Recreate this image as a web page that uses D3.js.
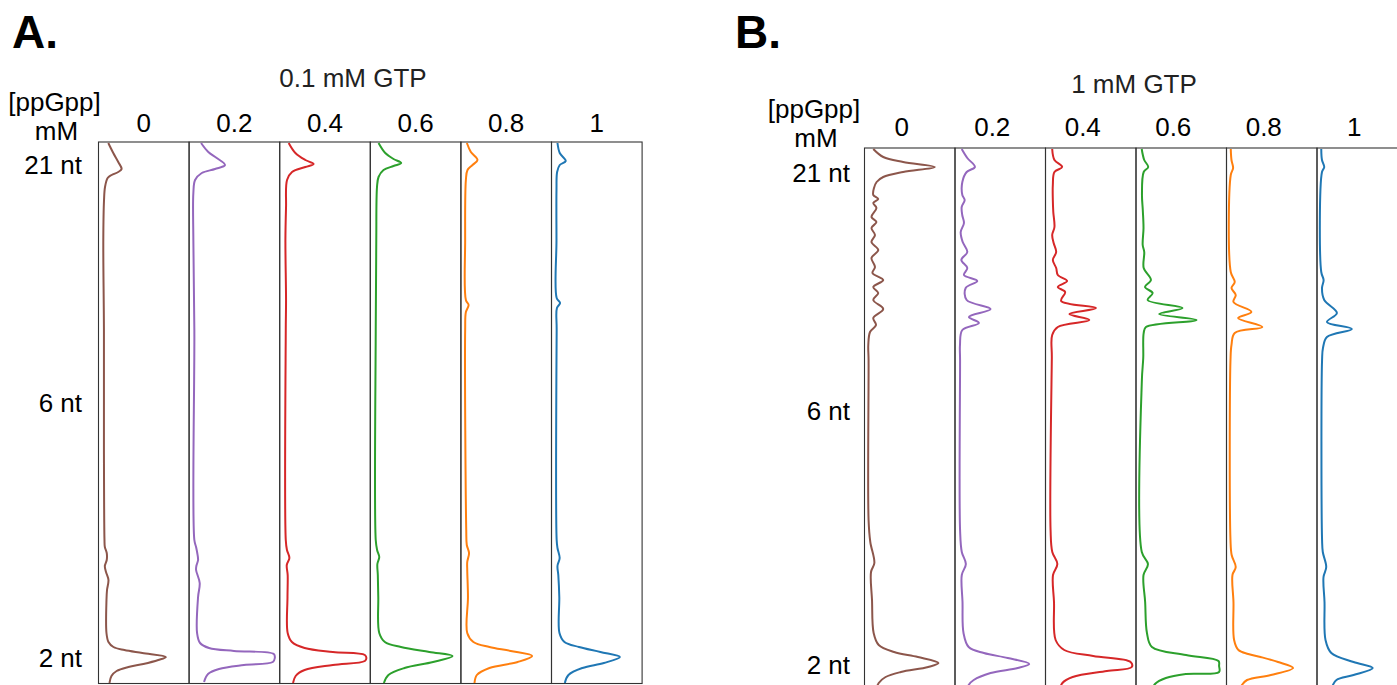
<!DOCTYPE html>
<html>
<head>
<meta charset="utf-8">
<script src="https://cdn.jsdelivr.net/npm/d3@7"></script>
<style>
  body { margin: 0; background: #fff; }
  text { font-family: "Liberation Sans", Arial, sans-serif; }
</style>
</head>
<body>
<script>
"use strict";

// lanes = ppGpp concentration (mM)
let lanes = ['0', '0.2', '0.4', '0.6', '0.8', '1'];
let laneColors = ['#8c564b', '#9467bd', '#d62728', '#2ca02c', '#ff7f0e', '#1f77b4'];

// size markers (label, migration)
let sizeLabels = ['21 nt', '6 nt', '2 nt'];
let sizePosA = [2.35, 26.1, 51.6];
let sizePosB = [2.5, 26.3, 51.7];

// densitometry profiles: [migration, intensity]
// panel A : 0.1 mM GTP
let profA0 = [[0.1,10.8],[1.1,16.3],[2.0,21.8],[2.7,25.5],[3.0,21.8],[3.3,14.5],[3.6,10.1],[4.5,7.2],[5.8,6.1],[9.8,5.3],
  [18.8,6.0],[30.8,6.0],[39.8,6.6],[40.5,7.0],[41.1,9.1],[41.8,9.1],[42.4,7.0],[43.0,8.3],[43.8,11.0],[44.8,9.4],[45.8,8.8],
  [49.1,8.8],[50.0,11.0],[50.5,16.5],[50.8,28.6],[51.1,48.4],[51.5,74.4],[51.8,66],[52.2,49.5],[52.5,33],[52.9,20],[53.4,14.3],[54.1,12.1]];
let profA1 = [[0.1,13.2],[1.0,21.2],[1.6,30.5],[2.3,39.6],[2.7,28.6],[3.1,14.0],[3.8,6.6],[5.1,4.7],[9.8,4.7],[18.8,5.8],
  [39.8,5.8],[40.5,7.7],[41.1,9.0],[41.8,9.9],[42.4,8.0],[42.8,7.7],[44.1,11.7],[45.5,9.9],
  [49.1,8.8],[50.1,12.1],[50.6,22],[50.9,49.5],[51.2,93.5],[51.6,94.6],[52.0,92.4],[52.3,60.5],[52.7,33],[53.2,20.9],[54.0,16.5]];
let profA2 = [[0.1,9.9],[1.1,17.3],[1.8,28.3],[2.2,37.4],[2.5,28.3],[3.0,13.6],[3.8,8.1],[6.5,7.0],[9.8,6.3],[15.8,7.0],[18.8,6.7],
  [39.8,6.7],[40.8,8.0],[41.6,10.7],[42.3,7.8],[43.3,8.8],[45.5,8.6],
  [49.1,8.8],[50.0,13.5],[50.6,27.5],[51.0,58.7],[51.3,94],[51.6,95.7],[51.9,94],[52.3,58.7],[52.8,27.5],[53.4,17.6],[54.1,14.7]];
let profA3 = [[0.1,9.1],[1.1,16.5],[1.7,25.6],[2.1,34.1],[2.4,25.6],[2.8,14.6],[3.5,9.1],[4.5,7.4],[9.8,6.6],[18.8,6.0],
  [39.8,6.0],[40.8,7.5],[41.5,9.9],[42.2,7.8],[43.3,8.3],[45.5,8.8],
  [49.1,9.9],[50.0,16.1],[50.5,33.8],[51.0,65.2],[51.4,90.8],[52.0,69.3],[52.6,37.7],[53.3,20],[54.1,15]];
let profA4 = [[0.1,6.6],[1.0,11],[1.8,18.3],[2.3,12.8],[2.8,7.3],[3.8,5.5],[9.8,4.7],[15.8,5.5],[16.3,8.5],[17.0,5.5],[18.8,4.7],
  [38.8,5.9],[40.3,6.5],[41.1,9.0],[42.0,7.0],[42.8,7.0],[45.5,7.8],
  [49.1,7.0],[50.0,13.8],[50.5,31.5],[50.9,55],[51.4,78.7],[52.0,62.7],[52.6,31.5],[53.3,17.6],[54.1,15]];
let profA5 = [[0.1,6.6],[1.1,9.1],[1.9,15.7],[2.3,9.1],[3.0,6.2],[4.8,5.5],[9.8,5.5],[15.6,5.7],[16.1,9.5],[16.6,6.0],[18.8,5.7],
  [39.8,5.7],[40.6,6.6],[41.6,9.0],[42.4,6.6],[43.3,7.5],[45.5,8.6],
  [49.1,8.8],[50.0,14.3],[50.5,30.3],[51.0,54],[51.5,75.5],[52.1,57.8],[52.6,34.1],[53.3,18.7],[54.1,14.7]];

// panel B : 1 mM GTP
let profB0 = [[0.1,9.7],[0.9,20.7],[1.4,42.7],[1.9,77.6],[2.4,42.7],[2.9,20.7],[3.4,13.4],[4.0,10.5],[4.7,9.7],[5.1,15.2],[5.5,9.7],
  [6.0,13.2],[6.9,7.7],[7.4,13.2],[8.0,7.7],[8.7,11.6],[9.4,7.7],[10.2,15.2],[11.0,7.7],[11.9,11.6],[12.5,8.8],[13.2,20.7],
  [13.9,9.7],[14.5,15.2],[15.2,9.7],[16.1,20.7],[17.0,9.7],[17.7,12.7],[18.4,6.1],[19.7,4.2],[21.2,4.5],[37.2,4.5],
  [39.4,6.4],[41.5,10.9],[42.4,7.2],[45.2,8.3],[48.5,10.1],[49.7,15.7],[50.4,32.7],[50.9,59],[51.5,81.7],[51.9,70.4],
  [52.4,40.2],[52.9,23.3],[53.5,15.7],[54.4,12]];
let profB1 = [[0.1,7.4],[1.0,13.6],[1.9,22],[2.4,12.9],[3.4,8.1],[4.7,8.1],[5.2,10.7],[5.9,7.4],[6.7,8.0],[7.5,9.9],[8.4,6.3],
  [9.4,8.5],[10.4,13.6],[11.2,7.0],[12.0,13.6],[12.7,9.9],[13.3,24.6],[14.0,11.8],[15.2,12.9],[16.1,39.3],[16.9,15.4],
  [17.5,26.4],[18.2,8.1],[19.7,5.5],[21.2,5.6],[38.2,5.6],[40.4,7.5],[41.6,12],[42.7,7.5],[45.4,8.3],
  [48.5,9.4],[49.9,15.1],[50.5,31.9],[51.0,58.3],[51.6,82],[52.0,69.3],[52.5,39.3],[53.2,20.7],[53.7,15.1],[54.4,13]];
let profB2 = [[0.1,7.4],[1.2,9.9],[1.9,18.4],[2.4,9.9],[3.7,8.1],[5.2,8.1],[6.4,8.6],[7.9,9.9],[8.7,7.4],[9.5,9.0],[10.4,11.8],
  [11.2,8.1],[12.0,11.8],[12.7,13.6],[13.3,23.9],[13.9,13.6],[14.4,21.7],[15.3,17.3],[16.0,55.8],[16.6,26.4],[17.2,48.4],
  [17.9,13.6],[18.7,7.4],[21.0,7.0],[38.2,5.6],[40.4,7.5],[41.6,13.1],[42.7,8.3],[45.4,9.4],
  [49.2,11.2],[50.2,20.7],[50.8,52.7],[51.4,94],[51.9,95.3],[52.3,67.8],[52.9,30],[53.5,18.7],[54.4,15]];
let profB3 = [[0.1,6.3],[1.2,9.1],[1.9,13.5],[2.4,8.5],[4.7,6.6],[6.2,7.5],[8.0,8.3],[9.7,7.4],[10.4,9.1],[12.0,8.5],[13.2,16.5],
  [13.9,9.9],[14.5,18.4],[15.2,12.9],[16.0,51.4],[16.6,25.6],[17.2,66.8],[17.9,11],[18.5,8.5],[21.0,8.0],[23.2,6.5],
  [40.4,6.4],[41.6,13.2],[42.7,8.3],[45.4,10.1],[48.5,12.1],[49.9,17.6],[50.7,55.3],[51.3,91.2],[51.8,91.8],[52.4,91.8],
  [52.6,55],[53.0,33],[53.6,21],[54.4,17]];
let profB4 = [[0.1,4.7],[1.2,5.5],[2.0,7.3],[2.7,4.7],[12.4,4.7],[13.4,9.1],[14.0,5.5],[14.7,10.2],[15.4,7.7],[16.4,27.5],
  [17.0,12.8],[17.9,39.6],[18.5,9.1],[19.7,5.5],[21.2,4.4],[39.2,4.4],[40.7,5.7],[41.9,10.2],[42.7,6.6],[45.4,7.7],
  [49.2,8.4],[50.2,13.2],[50.6,24],[50.9,37.7],[51.4,57],[52.0,73.5],[52.7,49],[53.2,22.7],[53.7,17],[54.4,14]];
let profB5 = [[0.1,4.7],[1.2,5.5],[1.9,8.0],[2.4,5.5],[12.4,4.7],[13.2,7.3],[14.0,5.5],[15.2,8.0],[16.5,22],[17.4,11],
  [18.1,38.5],[18.9,11],[20.0,6.6],[21.2,5.6],[39.2,5.6],[40.4,6.4],[41.9,10.2],[42.9,7.2],[45.4,8.3],
  [49.2,9.4],[50.5,15.8],[51.4,40.4],[52.0,61.6],[52.7,40.4],[53.2,21.5],[53.7,17.6],[54.4,15]];

let panels = [
  { letter: 'A.', title: '0.1 mM GTP', profiles: [profA0, profA1, profA2, profA3, profA4, profA5], sizePos: sizePosA,
    left: 98.5, laneW: 90.6, top: 142, bottom: 683.5, letterX: 12, titleX: 353, titleY: 87,
    labelDx: 0, labelY: 131.5, headX: 54.5, headY: 111, mmY: 140, sizeX: 82 },
  { letter: 'B.', title: '1 mM GTP', profiles: [profB0, profB1, profB2, profB3, profB4, profB5], sizePos: sizePosB,
    left: 864.5, laneW: 90.5, top: 148, bottom: 689.5, letterX: 735, titleX: 1134, titleY: 93,
    labelDx: -8, labelY: 135.5, headX: 814, headY: 118, mmY: 147, sizeX: 850 }
];

let width = 1397;
let height = 685;

let svg = d3.select('body')
    .append('svg')
    .attr('width', width)
    .attr('height', height);

panels.forEach(function(p) {
    let g = svg.append('g');

    let x = d3.scaleBand()
        .domain(lanes)
        .range([p.left, p.left + p.laneW * lanes.length]);

    let y = d3.scaleLinear()
        .domain([0, 54.15])
        .range([p.top, p.bottom]);

    let intensity = d3.scaleLinear()
        .domain([0, 100])
        .range([0, x.bandwidth()]);

    // lane boxes
    g.selectAll('.lane')
        .data(lanes)
        .enter()
        .append('rect')
        .attr('class', 'lane')
        .attr('x', function(d) { return x(d); })
        .attr('y', p.top)
        .attr('width', x.bandwidth())
        .attr('height', p.bottom - p.top)
        .attr('fill', 'none')
        .attr('stroke', '#333')
        .attr('stroke-width', 1.1);

    // profiles
    lanes.forEach(function(lane, i) {
        let line = d3.line()
            .x(function(d) { return x(lane) + intensity(d[1]); })
            .y(function(d) { return y(d[0]); })
            .curve(d3.curveCatmullRom.alpha(0.5));

        g.append('path')
            .datum(p.profiles[i])
            .attr('d', line)
            .attr('fill', 'none')
            .attr('stroke', laneColors[i])
            .attr('stroke-width', 2)
            .attr('stroke-linejoin', 'round');
    });

    // lane labels
    g.selectAll('.laneLabel')
        .data(lanes)
        .enter()
        .append('text')
        .attr('class', 'laneLabel')
        .attr('x', function(d) { return x(d) + x.bandwidth() / 2 + p.labelDx; })
        .attr('y', p.labelY)
        .attr('text-anchor', 'middle')
        .style('font-size', '26px')
        .text(function(d) { return d; });

    // size markers on the left
    let axis = d3.axisLeft(y)
        .tickValues(p.sizePos)
        .tickFormat(function(d, i) { return sizeLabels[i]; })
        .tickSize(0)
        .tickPadding(0);

    let ax = g.append('g')
        .attr('transform', 'translate(' + p.sizeX + ',0)')
        .call(axis);
    ax.select('.domain').remove();
    ax.selectAll('text')
        .style('font-family', '"Liberation Sans", Arial, sans-serif')
        .style('font-size', '26px')
        .attr('fill', '#000');

    g.append('text')
        .attr('x', p.headX)
        .attr('y', p.headY)
        .attr('text-anchor', 'middle')
        .style('font-size', '26px')
        .text('[ppGpp]');

    g.append('text')
        .attr('x', p.headX + 2)
        .attr('y', p.mmY)
        .attr('text-anchor', 'middle')
        .style('font-size', '26px')
        .text('mM');

    g.append('text')
        .attr('x', p.titleX)
        .attr('y', p.titleY)
        .attr('text-anchor', 'middle')
        .attr('fill', '#222')
        .style('font-size', '26px')
        .text(p.title);

    g.append('text')
        .attr('x', p.letterX)
        .attr('y', 48)
        .style('font-size', '46px')
        .style('font-weight', 'bold')
        .text(p.letter);
});
</script>
</body>
</html>
